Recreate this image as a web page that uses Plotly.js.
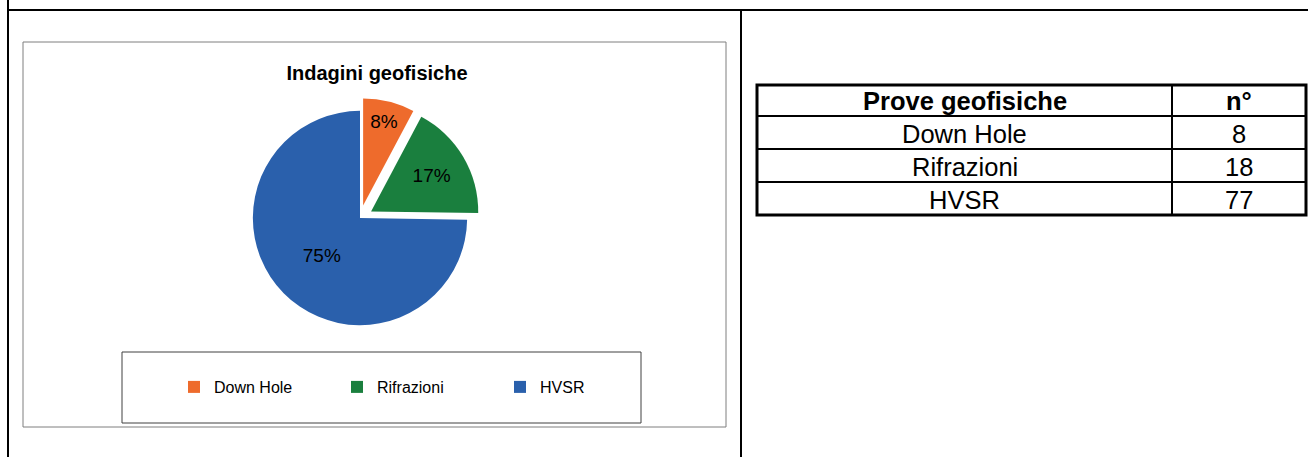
<!DOCTYPE html>
<html>
<head>
<meta charset="utf-8">
<script src="https://cdn.plot.ly/plotly-3.0.1.min.js"></script>
<style>
html,body{margin:0;padding:0;background:#fff;}
#chart{width:1308px;height:457px;}
</style>
</head>
<body>
<div id="chart"></div>
<script>
// ---- data ----
const categories = ["Down Hole", "Rifrazioni", "HVSR"];
const counts = [8, 18, 77];
const sliceColors = ["#EE6B2C", "#1A7F3E", "#2A60AC"];
const chartTitle = "Indagini geofisiche";
const tableHeader = ["Prove geofisiche", "n°"];

// ---- layout helpers (pixel -> paper) ----
const W = 1308, H = 457;
const px = x => x / W;
const py = y => 1 - y / H;
const sans = "Liberation Sans, Arial, sans-serif";

const pie = {
  type: "pie",
  labels: categories,
  values: counts,
  sort: false,
  direction: "clockwise",
  rotation: 0,
  pull: [0.12, 0.12, 0],
  marker: {colors: sliceColors, line: {width: 0}},
  texttemplate: "%{percent:.0%}",
  textposition: "inside",
  insidetextorientation: "horizontal",
  textfont: {family: sans, size: 19, color: "#000"},
  hoverinfo: "none",
  domain: {x: [px(150), px(570)], y: [py(338), py(98)]},
  showlegend: true
};

// ---- table geometry (positions only) ----
const colEdges = [757, 1172, 1306];
const rowEdges = [85, 116, 149, 182, 215];
const tableRows = [tableHeader].concat(categories.map((c, i) => [c, String(counts[i])]));

const annotations = [];
tableRows.forEach((row, r) => {
  row.forEach((val, c) => {
    annotations.push({
      xref: "paper", yref: "paper",
      x: px((colEdges[c] + colEdges[c + 1]) / 2),
      y: py((rowEdges[r] + rowEdges[r + 1]) / 2 + 1),
      xanchor: "center", yanchor: "middle",
      text: r === 0 ? "<b>" + val + "</b>" : val,
      showarrow: false,
      font: {family: sans, size: 25.5, color: "#000"}
    });
  });
});

const shapes = [
  // document frame
  {type: "line", x0: px(8), x1: 1, y0: py(10), y1: py(10), line: {color: "#000", width: 2}},
  {type: "line", x0: px(8), x1: px(8), y0: py(0), y1: 0, line: {color: "#000", width: 2}},
  {type: "line", x0: px(741), x1: px(741), y0: py(10), y1: 0, line: {color: "#000", width: 2}},
  // chart area box
  {type: "rect", x0: px(23), x1: px(726), y0: py(427), y1: py(42), line: {color: "#7f7f7f", width: 1}},
  // legend box
  {type: "rect", x0: px(122), x1: px(641), y0: py(423), y1: py(352), line: {color: "#404040", width: 1}},
  // table outer border
  {type: "rect", x0: px(colEdges[0]), x1: px(colEdges[2]), y0: py(rowEdges[4]), y1: py(rowEdges[0]), line: {color: "#000", width: 3}},
  // table column divider
  {type: "line", x0: px(colEdges[1]), x1: px(colEdges[1]), y0: py(rowEdges[4]), y1: py(rowEdges[0]), line: {color: "#000", width: 2}}
];
for (let r = 1; r < rowEdges.length - 1; r++) {
  shapes.push({type: "line", x0: px(colEdges[0]), x1: px(colEdges[2]), y0: py(rowEdges[r]), y1: py(rowEdges[r]), line: {color: "#000", width: 2}});
}
shapes.forEach(s => { s.xref = "paper"; s.yref = "paper"; });

const layout = {
  width: W, height: H,
  margin: {l: 0, r: 0, t: 0, b: 0},
  paper_bgcolor: "#fff",
  plot_bgcolor: "#fff",
  title: {
    text: "<b>" + chartTitle + "</b>",
    font: {family: sans, size: 20, color: "#000"},
    x: px(377), xanchor: "center",
    y: py(73), yanchor: "middle",
    xref: "paper", yref: "paper"
  },
  showlegend: true,
  legend: {
    orientation: "h",
    x: px(174), xanchor: "left",
    y: py(387), yanchor: "middle",
    entrywidth: 118,
    font: {family: sans, size: 16, color: "#000"},
    bgcolor: "rgba(0,0,0,0)",
    borderwidth: 0,
    itemclick: false
  },
  shapes: shapes,
  annotations: annotations,
  hovermode: false
};

Plotly.newPlot("chart", [pie], layout, {displayModeBar: false, staticPlot: true});
</script>
</body>
</html>
